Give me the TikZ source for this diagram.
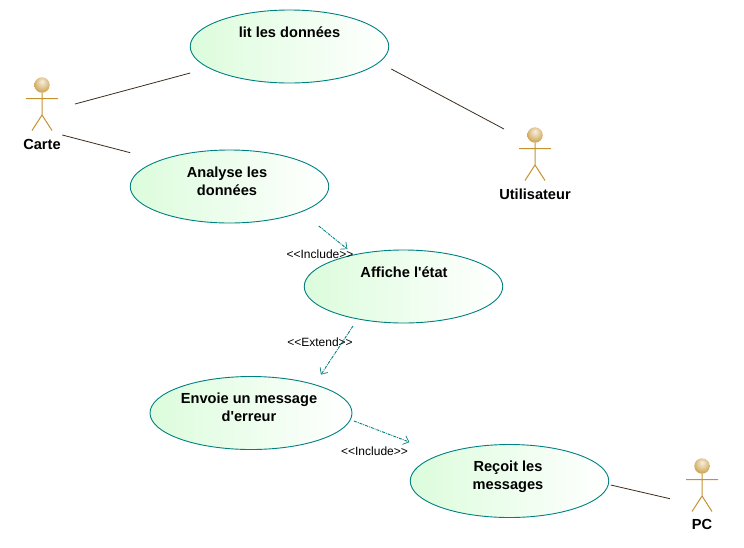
\documentclass[tikz,border=0pt]{standalone}
\usepackage{fontspec}
\setmainfont{Liberation Sans}
\usetikzlibrary{shapes.geometric,arrows.meta,positioning}
\definecolor{uclinecol}{HTML}{008080}
\definecolor{ucfillcol}{HTML}{DCFCDC}
\definecolor{actorcol}{HTML}{C4922F}
\definecolor{assoccol}{HTML}{3A2C1E}
\newcommand*\ucrx{198.5pt}
\newcommand*\ucry{73pt}
\pgfdeclareradialshading{actorball}{\pgfpoint{0bp}{12bp}}{
    color(0bp)=(white!85!actorcol); color(16bp)=(white!50!actorcol);
    color(36bp)=(actorcol); color(60bp)=(actorcol!75!black)}
\tikzset{
    usecase/.style   = {draw=uclinecol,ellipse,line width=.9pt,left color=ucfillcol,right color=white,
                    minimum width=\ucrx, minimum height=\ucry, inner sep=0pt, outer sep=0pt},
    uctext/.style    = {font=\fontsize{14.6}{18}\selectfont\bfseries,align=center,inner sep=0pt},
    actorbox/.style  = {minimum width=32pt, minimum height=54pt, inner sep=0pt, outer sep=0pt},
    actorname/.style = {font=\fontsize{14.6}{18}\selectfont\bfseries,inner sep=0pt},
    assoc/.style     = {draw=assoccol,line width=.8pt},
    depend/.style    = {draw=uclinecol,line width=.9pt,dash pattern=on 3pt off 1pt on 1pt off 1pt,
                    -{Straight Barb[length=5pt,width=9pt,line width=.7pt,round]}},
    deplabel/.style  = {font=\fontsize{12}{14}\selectfont,inner sep=0pt},
  }

\begin{document}
\begin{tikzpicture}[x=1pt,y=-1pt]
    \useasboundingbox (0,0) rectangle (744,547);

    % Use cases
    \node[usecase] (lit)     at (289.5,46.5) {};
    \node[usecase] (analyse) at (229.5,186.5) {};
    \node[usecase] (affiche) at (403.5,286.5) {};
    \node[usecase,minimum width=202pt] (envoie) at (251,413) {};
    \node[usecase] (recoit)  at (509.5,481) {};

    % Use case texts sit in the upper half
    \node[uctext] (littxt)     at (289.5,32)  {lit les données};
    \node[uctext] (analysetxt) at (227,181)   {Analyse les\\données};
    \node[uctext] (affichetxt) at (404,272)   {Affiche l\textquotesingle état};
    \node[uctext] (envoietxt)  at (249,407)   {Envoie un message\\d\textquotesingle erreur};
    \node[uctext] (recoittxt)  at (508,477)   {Reçoit les\\messages};

    % Actors
    \node[actorbox] (carte) at (42,104) {};
    \node[actorbox] (util)  at (535,154) {};
    \node[actorbox] (pc)    at (702,485) {};
    \node[actorname,below=8pt of carte] (cartetxt) {Carte};
    \node[actorname,below=8pt of util]  (utiltxt)  {Utilisateur};
    \node[actorname,below=7pt of pc]    (pctxt)    {PC};

    % Stick figure, drawn from the centre of each actor box
    \foreach \a in {carte,util,pc} {
        \draw[actorcol,line width=1pt]
            ([shift={(0,-11.5)}]\a.center) -- ([shift={(0,11)}]\a.center)
            ([shift={(-16,-5.5)}]\a.center) -- ([shift={(16,-5.5)}]\a.center)
            ([shift={(-10,26.5)}]\a.center) -- ([shift={(0,11)}]\a.center) -- ([shift={(10,26.5)}]\a.center);
        \shade[shading=actorball] ([shift={(0,-19)}]\a.center) circle (7.7pt);
    }

    % Associations
    \draw[assoc] ([shift={(17,0)}]carte.east) -- ([shift={(0,26.5)}]lit.west);
    \draw[assoc] ([shift={(4.3,4)}]carte.south east) -- ([shift={(0,-33.8)}]analyse.west);
    \draw[assoc] ([shift={(2.5,22.5)}]lit.east) -- ([shift={(-15,2)}]util.north west);
    \draw[assoc] ([shift={(2,4)}]recoit.east) -- ([shift={(-16,13.7)}]pc.west);

    % Include and extend
    \draw[depend] ([shift={(-10,39.5)}]analyse.east) -- ([shift={(43,-37.5)}]affiche.west);
    \draw[depend] ([shift={(-50.5,3)}]affiche.south) -- ([shift={(70,-2)}]envoie.north);
    \draw[depend] ([shift={(2,8)}]envoie.east) -- ([shift={(-1,-39)}]recoit.west);
    \node[deplabel] (inclA) at (320,254)   {<{}<Include>{}>};
    \node[deplabel] (extd)  at (320,342)   {<{}<Extend>{}>};
    \node[deplabel] (inclB) at (374.5,451) {<{}<Include>{}>};
\end{tikzpicture}
\end{document}
